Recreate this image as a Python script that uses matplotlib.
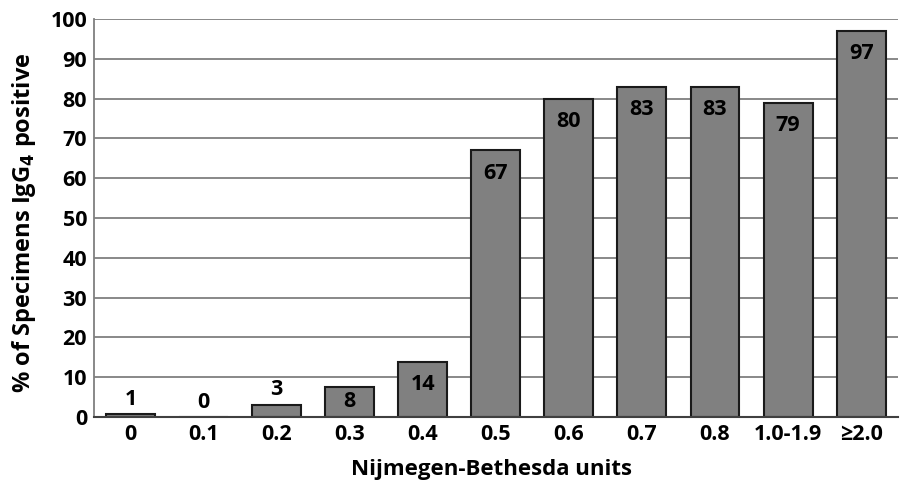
import numpy as np
import matplotlib.pyplot as plt

categories = ['0', '0.1', '0.2', '0.3', '0.4', '0.5', '0.6', '0.7', '0.8', '1.0-1.9', '≥2.0']
percent = [0.8, 0, 3.1, 7.6, 13.9, 67, 80, 83, 83, 79, 97]
labels = ['1', '0', '3', '8', '14', '67', '80', '83', '83', '79', '97']

plt.rcParams['font.family'] = ['Open Sans', 'DejaVu Sans']
plt.rcParams['font.weight'] = 'bold'

fig = plt.figure(figsize=(9.04, 4.86), dpi=100)
ax = fig.add_axes([0.104, 0.142, 0.889, 0.819])

x = np.arange(len(categories))
ax.set_axisbelow(True)
ax.yaxis.grid(True, color='#7f7f7f', linewidth=1.3)
ax.bar(x, percent, width=0.67, color='#808080', edgecolor='#1a1a1a', linewidth=1.5)

fs = 15.5
for i in range(len(x)):
    if percent[i] < 5:
        # short bars: label above
        ax.annotate(labels[i], (x[i], percent[i]), xytext=(0, 3), textcoords='offset points',
                    ha='center', va='bottom', fontsize=fs, fontweight='bold')
    elif percent[i] < 10:
        ax.annotate(labels[i], (x[i], percent[i]), xytext=(0, -3), textcoords='offset points',
                    ha='center', va='top', fontsize=fs, fontweight='bold')
    else:
        ax.annotate(labels[i], (x[i], percent[i]), xytext=(0, -9), textcoords='offset points',
                    ha='center', va='top', fontsize=fs, fontweight='bold')

ax.set_xlim(-0.5, len(categories) - 0.5)
ax.set_ylim(0, 100)
ax.set_yticks(range(0, 101, 10))
ax.set_xticks(x)
ax.set_xticklabels(categories)
ax.tick_params(axis='both', length=0, labelsize=fs, pad=5)
for lab in ax.get_xticklabels() + ax.get_yticklabels():
    lab.set_fontweight('bold')

ax.spines['top'].set_visible(False)
ax.spines['right'].set_visible(False)
ax.spines['left'].set_color('#7f7f7f')
ax.spines['left'].set_linewidth(1.3)
ax.spines['bottom'].set_color('#404040')
ax.spines['bottom'].set_linewidth(1.5)

ax.set_xlabel('Nijmegen-Bethesda units', fontsize=16, fontweight='bold')
ax.set_ylabel('% of Specimens IgG$_\\mathbf{4}$ positive', fontsize=17, fontweight='bold')
ax.xaxis.set_label_coords(0.495, -0.105)
ax.yaxis.set_label_coords(-0.07, 0.487)

plt.savefig('out.png', dpi=100)
